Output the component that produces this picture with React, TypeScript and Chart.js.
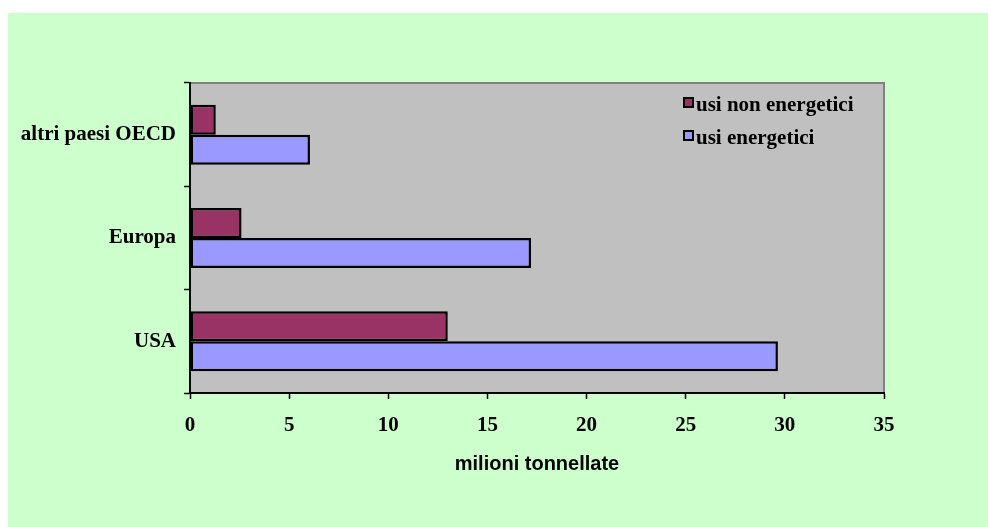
import React, { useEffect, useRef } from "react";
import { Chart, registerables } from "chart.js";

Chart.register(...registerables);

const categories = ["altri paesi OECD", "Europa", "USA"];
const seriesNames = ["usi non energetici", "usi energetici"];
const nonEnergetici = [1.3, 2.6, 13.0];
const energetici = [6.05, 17.2, 29.65];
const seriesColors = ["#993366", "#9999FF"];
const xTicks = [0, 5, 10, 15, 20, 25, 30, 35];
const axisTitle = "milioni tonnellate";

const SERIF = "'Times New Roman', 'Liberation Serif', serif";
const SANS = "Arial, 'Liberation Sans', sans-serif";

const plotBgPlugin = {
  id: "plotBg",
  beforeDraw(chart: any) {
    const { ctx, chartArea: a } = chart;
    ctx.save();
    ctx.fillStyle = "#C0C0C0";
    ctx.fillRect(a.left, a.top, a.right - a.left, a.bottom - a.top);
    ctx.strokeStyle = "#808080";
    ctx.lineWidth = 2;
    ctx.strokeRect(a.left, a.top, a.right - a.left, a.bottom - a.top);
    ctx.restore();
  },
};

const legendPlugin = {
  id: "customLegend",
  afterDatasetsDraw(chart: any) {
    const { ctx } = chart;
    ctx.save();
    chart.data.datasets.forEach((ds: any, i: number) => {
      const cy = 89.5 + i * 33;
      ctx.fillStyle = ds.backgroundColor;
      ctx.fillRect(676, cy - 4.5, 9, 9);
      ctx.strokeStyle = "#000";
      ctx.lineWidth = 2;
      ctx.strokeRect(676, cy - 4.5, 9, 9);
      ctx.fillStyle = "#000";
      ctx.font = `bold 21px ${SERIF}`;
      ctx.textBaseline = "alphabetic";
      ctx.textAlign = "left";
      ctx.fillText(ds.label, 688, cy + 8.5);
    });
    ctx.restore();
  },
};

function BarChart() {
  const ref = useRef<HTMLCanvasElement | null>(null);
  useEffect(() => {
    if (!ref.current) return;
    const chart = new Chart(ref.current, {
      type: "bar",
      data: {
        labels: categories,
        datasets: [
          {
            label: seriesNames[0],
            data: nonEnergetici,
            backgroundColor: seriesColors[0],
            borderColor: "#000",
            borderWidth: 2.5,
            borderSkipped: false,
            categoryPercentage: 0.58,
            barPercentage: 1,
          },
          {
            label: seriesNames[1],
            data: energetici,
            backgroundColor: seriesColors[1],
            borderColor: "#000",
            borderWidth: 2.5,
            borderSkipped: false,
            categoryPercentage: 0.58,
            barPercentage: 1,
          },
        ],
      },
      options: {
        indexAxis: "y",
        animation: false,
        responsive: false,
        devicePixelRatio: 1,
        layout: { padding: { left: 0, top: 70, right: 104, bottom: 0 } },
        plugins: {
          legend: { display: false },
          tooltip: { enabled: false },
        },
        scales: {
          x: {
            type: "linear",
            min: 0,
            max: 35,
            afterFit(scale: any) {
              scale.height = 134;
            },
            afterBuildTicks(scale: any) {
              scale.ticks = xTicks.map((v) => ({ value: v }));
            },
            grid: {
              drawOnChartArea: false,
              drawTicks: true,
              tickLength: 6,
              color: "#000",
              tickWidth: 1.5,
            },
            border: { display: true, color: "#000", width: 2 },
            ticks: {
              color: "#000",
              padding: 14,
              font: { family: SERIF, size: 21, weight: "bold" },
            },
            title: {
              display: true,
              text: axisTitle,
              color: "#000",
              font: { family: SANS, size: 20, weight: "bold" },
              padding: { top: 0, bottom: 51 },
            },
          },
          y: {
            type: "category",
            afterFit(scale: any) {
              scale.width = 182;
            },
            grid: {
              drawOnChartArea: false,
              drawTicks: true,
              tickLength: 6,
              color: "#000",
              tickWidth: 1.5,
              offset: true,
            },
            border: { display: true, color: "#000", width: 2 },
            ticks: {
              color: "#000",
              padding: 8,
              font: { family: SERIF, size: 21, weight: "bold" },
            },
          },
        },
      } as any,
      plugins: [plotBgPlugin, legendPlugin],
    });
    return () => chart.destroy();
  }, []);
  return (
    <canvas
      ref={ref}
      width={980}
      height={514}
      style={{ display: "block", width: 980, height: 514 }}
    />
  );
}

export default function App() {
  return (
    <div
      style={{
        position: "fixed",
        left: 8,
        top: 13,
        width: 980,
        height: 514,
        background: "#CCFFCC",
      }}
    >
      <BarChart />
    </div>
  );
}
